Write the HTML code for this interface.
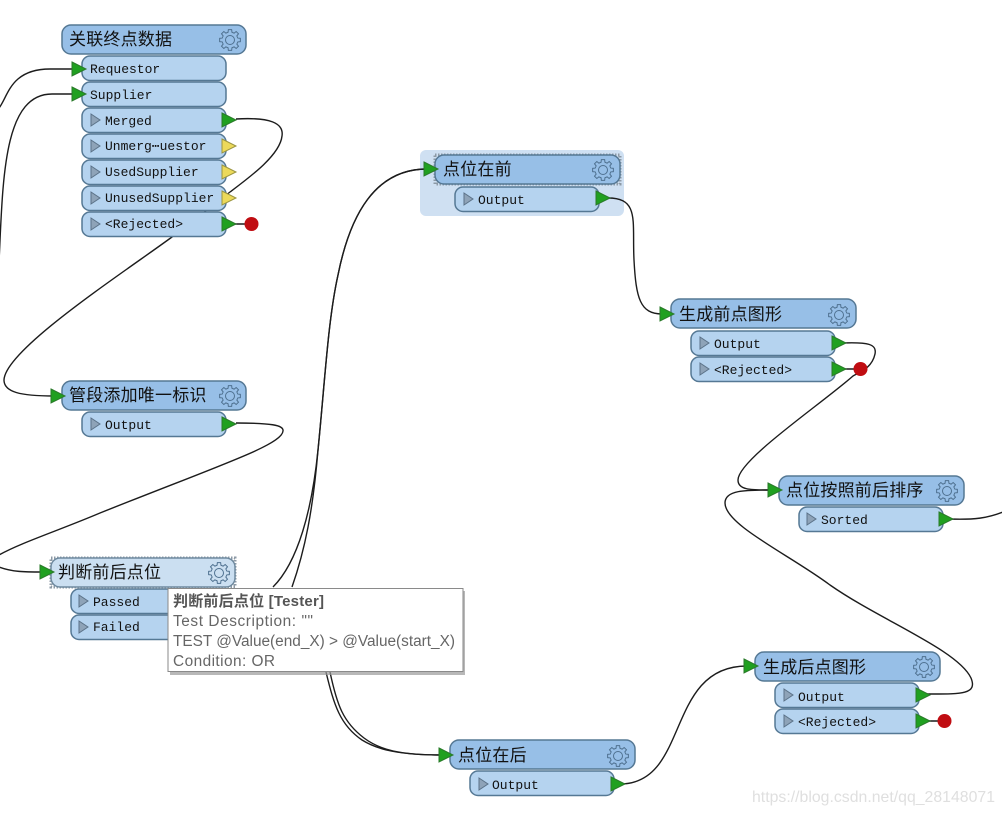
<!DOCTYPE html>
<html><head><meta charset="utf-8"><style>
html,body{margin:0;padding:0;background:#fff;width:1002px;height:814px;overflow:hidden}
svg{display:block}
.h{fill:#97bfe7;stroke:#557894;stroke-width:1.5}
.hl{fill:#cbdff1;stroke:#6f8a9f;stroke-width:1.5}
.p{fill:#b5d3ef;stroke:#557894;stroke-width:1.5}
.c{fill:none;stroke:#1c1c1c;stroke-width:1.4}
.t{font-family:"Liberation Sans","Noto Sans CJK SC",sans-serif;font-size:17px;letter-spacing:.2px;fill:#111}
.m{font-family:"Liberation Mono","DejaVu Sans Mono",monospace;font-size:13px;fill:#111}
.g{fill:#20a020;stroke:#2a7a2a;stroke-width:1}
.y{fill:#ecd95a;stroke:#9a9440;stroke-width:1}
.s{fill:#8ea3b8;stroke:#5b7288;stroke-width:1}
.r{fill:#c00d12}
.tt{font-family:"Liberation Sans","Noto Sans CJK SC",sans-serif;font-size:15.4px;fill:#666}
.sel{fill:none;stroke:#8d9aa6;stroke-width:3;stroke-dasharray:1.5 1.5}
</style></head><body>
<svg width="1002" height="814" viewBox="0 0 1002 814" xmlns="http://www.w3.org/2000/svg">
<defs>
<g id="gear" fill="none" stroke="#4f7190" stroke-width="1">
<polygon points="7.76,-1.94 10.37,-1.64 10.37,1.64 7.76,1.94 6.86,4.12 8.49,6.17 6.17,8.49 4.12,6.86 1.94,7.76 1.64,10.37 -1.64,10.37 -1.94,7.76 -4.12,6.86 -6.17,8.49 -8.49,6.17 -6.86,4.12 -7.76,1.94 -10.37,1.64 -10.37,-1.64 -7.76,-1.94 -6.86,-4.12 -8.49,-6.17 -6.17,-8.49 -4.12,-6.86 -1.94,-7.76 -1.64,-10.37 1.64,-10.37 1.94,-7.76 4.12,-6.86 6.17,-8.49 8.49,-6.17 6.86,-4.12"/>
<circle r="4.5"/>
</g>
<polygon id="tri" points="0,-7 14,0 0,7"/>
<polygon id="st" points="0,-6 9,0 0,6"/>
</defs>
<rect x="420" y="150" width="204" height="66" rx="6" fill="#cfe0f2"/>

<!-- connectors -->
<path class="c" d="M-1,108 C8,97 10,69 50,69 L74,69"/>
<path class="c" d="M-1,262 C3,180 3,94 52,94 L74,94"/>
<path class="c" d="M236,119 C270,117 284,123 282,136 C280,155 250,177 230,192 L172,237 C120,275 5,350 4,380 C4,392 20,396 54,396"/>
<path class="c" d="M236,423 C270,423 284,425 283,431 C282,445 220,465 100,513 C60,530 20,543 -1,555"/>
<path class="c" d="M-1,567 C12,572 25,572 42,572"/>
<path class="c" d="M273,587 C298,562 312,510 318,450 C325,380 328,320 338,275 C350,215 375,169 427,169"/>
<path class="c" d="M292,587 C305,550 313,510 318,450 C325,380 328,320 338,275 C350,215 375,169 427,169"/>
<path class="c" d="M326,672 C334,705 340,725 362,740 C378,750 400,755 442,755"/>
<path class="c" d="M330,672 C337,705 343,722 364,738 C380,750 400,755 442,755"/>
<path class="c" d="M608,198 C640,198 632,222 634,260 C636,298 640,314 662,314"/>
<path class="c" d="M842,343 C868,342 877,344 875,354 C872,368 860,372 853,376 C820,405 738,460 738,480 C738,490 750,490 772,490"/>
<path class="c" d="M948,519 C975,520 988,518 1003,512"/>
<path class="c" d="M925,694 C960,694 978,695 971,678 C958,650 880,620 830,585 C790,555 725,525 725,503 C725,490 745,490 772,490"/>
<path class="c" d="M620,784 C690,784 665,666 747,666"/>

<path class="c" d="M232,224 H250"/><path class="c" d="M842,369 H860"/><path class="c" d="M925,721 H944"/>
<circle class="r" cx="251.500" cy="224" r="7"/><circle class="r" cx="860.500" cy="369" r="7"/><circle class="r" cx="944.500" cy="721" r="7"/>

<!-- Node A -->
<rect class="h" x="62" y="25" width="184" height="29" rx="9"/>
<text class="t" x="69" y="45">关联终点数据</text><use href="#gear" x="230" y="40"/>
<rect class="p" x="82" y="56" width="144" height="24.500" rx="8"/>
<rect class="p" x="82" y="82" width="144" height="24.500" rx="8"/>
<rect class="p" x="82" y="108" width="144" height="24.500" rx="8"/>
<rect class="p" x="82" y="134" width="144" height="24.500" rx="8"/>
<rect class="p" x="82" y="160" width="144" height="24.500" rx="8"/>
<rect class="p" x="82" y="186" width="144" height="24.500" rx="8"/>
<rect class="p" x="82" y="212" width="144" height="24.500" rx="8"/>
<text class="m" x="90" y="73">Requestor</text><text class="m" x="90" y="99">Supplier</text>
<text class="m" x="105" y="125">Merged</text><text class="m" x="105" y="150">Unmerg⋯uestor</text>
<text class="m" x="105" y="176">UsedSupplier</text><text class="m" x="105" y="202">UnusedSupplier</text>
<text class="m" x="105" y="228">&lt;Rejected&gt;</text>
<use href="#st" class="s" x="91" y="120"/><use href="#st" class="s" x="91" y="146"/><use href="#st" class="s" x="91" y="172"/><use href="#st" class="s" x="91" y="198"/><use href="#st" class="s" x="91" y="224"/>
<use href="#tri" class="g" x="72" y="69"/><use href="#tri" class="g" x="72" y="94"/>
<use href="#tri" class="g" x="222" y="120"/><use href="#tri" class="y" x="222" y="146"/><use href="#tri" class="y" x="222" y="172"/><use href="#tri" class="y" x="222" y="198"/><use href="#tri" class="g" x="222" y="224"/>

<!-- Node B -->
<rect class="h" x="62" y="381" width="184" height="29" rx="9"/>
<text class="t" x="69" y="401">管段添加唯一标识</text><use href="#gear" x="230" y="396"/>
<rect class="p" x="82" y="412" width="144" height="24.500" rx="8"/>
<text class="m" x="105" y="429">Output</text><use href="#st" class="s" x="91" y="424"/>
<use href="#tri" class="g" x="51" y="396"/><use href="#tri" class="g" x="222" y="424"/>

<!-- Node C -->
<rect class="p" x="71" y="589" width="144" height="24.500" rx="8"/>
<rect class="p" x="71" y="615" width="144" height="24.500" rx="8"/>
<text class="m" x="93" y="606">Passed</text><text class="m" x="93" y="631">Failed</text>
<use href="#st" class="s" x="79" y="601"/><use href="#st" class="s" x="79" y="627"/>
<rect class="sel" x="51" y="558" width="184" height="29"/>
<rect class="hl" x="51" y="558" width="184" height="29" rx="9"/>
<text class="t" x="58" y="578">判断前后点位</text>
<use href="#gear" x="219" y="573"/>
<use href="#tri" class="g" x="40" y="572"/>

<!-- Node D -->
<rect class="sel" x="435" y="155" width="185" height="29"/>
<rect class="h" x="435" y="155" width="185" height="29" rx="9"/>
<text class="t" x="443" y="175">点位在前</text><use href="#gear" x="603" y="170"/>
<rect class="p" x="455" y="187" width="144" height="24.500" rx="8"/>
<text class="m" x="478" y="204">Output</text><use href="#st" class="s" x="464" y="199"/>
<use href="#tri" class="g" x="424" y="169"/><use href="#tri" class="g" x="596" y="198"/>

<!-- Node E -->
<rect class="h" x="671" y="299" width="185" height="29" rx="9"/>
<text class="t" x="679" y="320">生成前点图形</text><use href="#gear" x="839" y="315"/>
<rect class="p" x="691" y="331" width="144" height="24.500" rx="8"/>
<rect class="p" x="691" y="357" width="144" height="24.500" rx="8"/>
<text class="m" x="714" y="348">Output</text><text class="m" x="714" y="374">&lt;Rejected&gt;</text>
<use href="#st" class="s" x="700" y="343"/><use href="#st" class="s" x="700" y="369"/>
<use href="#tri" class="g" x="660" y="314"/><use href="#tri" class="g" x="832" y="343"/><use href="#tri" class="g" x="832" y="369"/>

<!-- Node F -->
<rect class="h" x="779" y="476" width="185" height="29" rx="9"/>
<text class="t" x="786" y="496">点位按照前后排序</text><use href="#gear" x="947" y="491"/>
<rect class="p" x="799" y="507" width="144" height="24.500" rx="8"/>
<text class="m" x="821" y="524">Sorted</text><use href="#st" class="s" x="807" y="519"/>
<use href="#tri" class="g" x="768" y="490"/><use href="#tri" class="g" x="939" y="519"/>

<!-- Node G -->
<rect class="h" x="755" y="652" width="185" height="29" rx="9"/>
<text class="t" x="763" y="673">生成后点图形</text><use href="#gear" x="924" y="667"/>
<rect class="p" x="775" y="683" width="144" height="24.500" rx="8"/>
<rect class="p" x="775" y="709" width="144" height="24.500" rx="8"/>
<text class="m" x="798" y="701">Output</text><text class="m" x="798" y="726">&lt;Rejected&gt;</text>
<use href="#st" class="s" x="784" y="695"/><use href="#st" class="s" x="784" y="721"/>
<use href="#tri" class="g" x="744" y="666"/><use href="#tri" class="g" x="916" y="695"/><use href="#tri" class="g" x="916" y="721"/>

<!-- Node H -->
<rect class="h" x="450" y="740" width="185" height="29" rx="9"/>
<text class="t" x="458" y="761">点位在后</text><use href="#gear" x="618" y="756"/>
<rect class="p" x="470" y="771" width="144" height="24.500" rx="8"/>
<text class="m" x="492" y="789">Output</text><use href="#st" class="s" x="479" y="784"/>
<use href="#tri" class="g" x="439" y="755"/><use href="#tri" class="g" x="611" y="784"/>

<!-- Tooltip -->
<rect x="170" y="591" width="295" height="84" fill="#9a9a9a" opacity=".7"/>
<rect x="168" y="588.500" width="295" height="83" fill="#fff" stroke="#8a8a8a"/>
<text class="tt" x="173" y="606" textLength="151" style="font-size:15px;font-weight:bold;fill:#555">判断前后点位 [Tester]</text>
<text class="tt" x="173" y="626" textLength="140">Test Description: ""</text>
<text class="tt" x="173" y="646" textLength="282">TEST @Value(end_X) &gt; @Value(start_X)</text>
<text class="tt" x="173" y="666" textLength="102">Condition: OR</text>

<text x="752" y="802" textLength="243" style="font-family:'Liberation Sans',sans-serif;font-size:15.800px;fill:#dfdfdf">https://blog.csdn.net/qq_28148071</text>
</svg>
</body></html>
